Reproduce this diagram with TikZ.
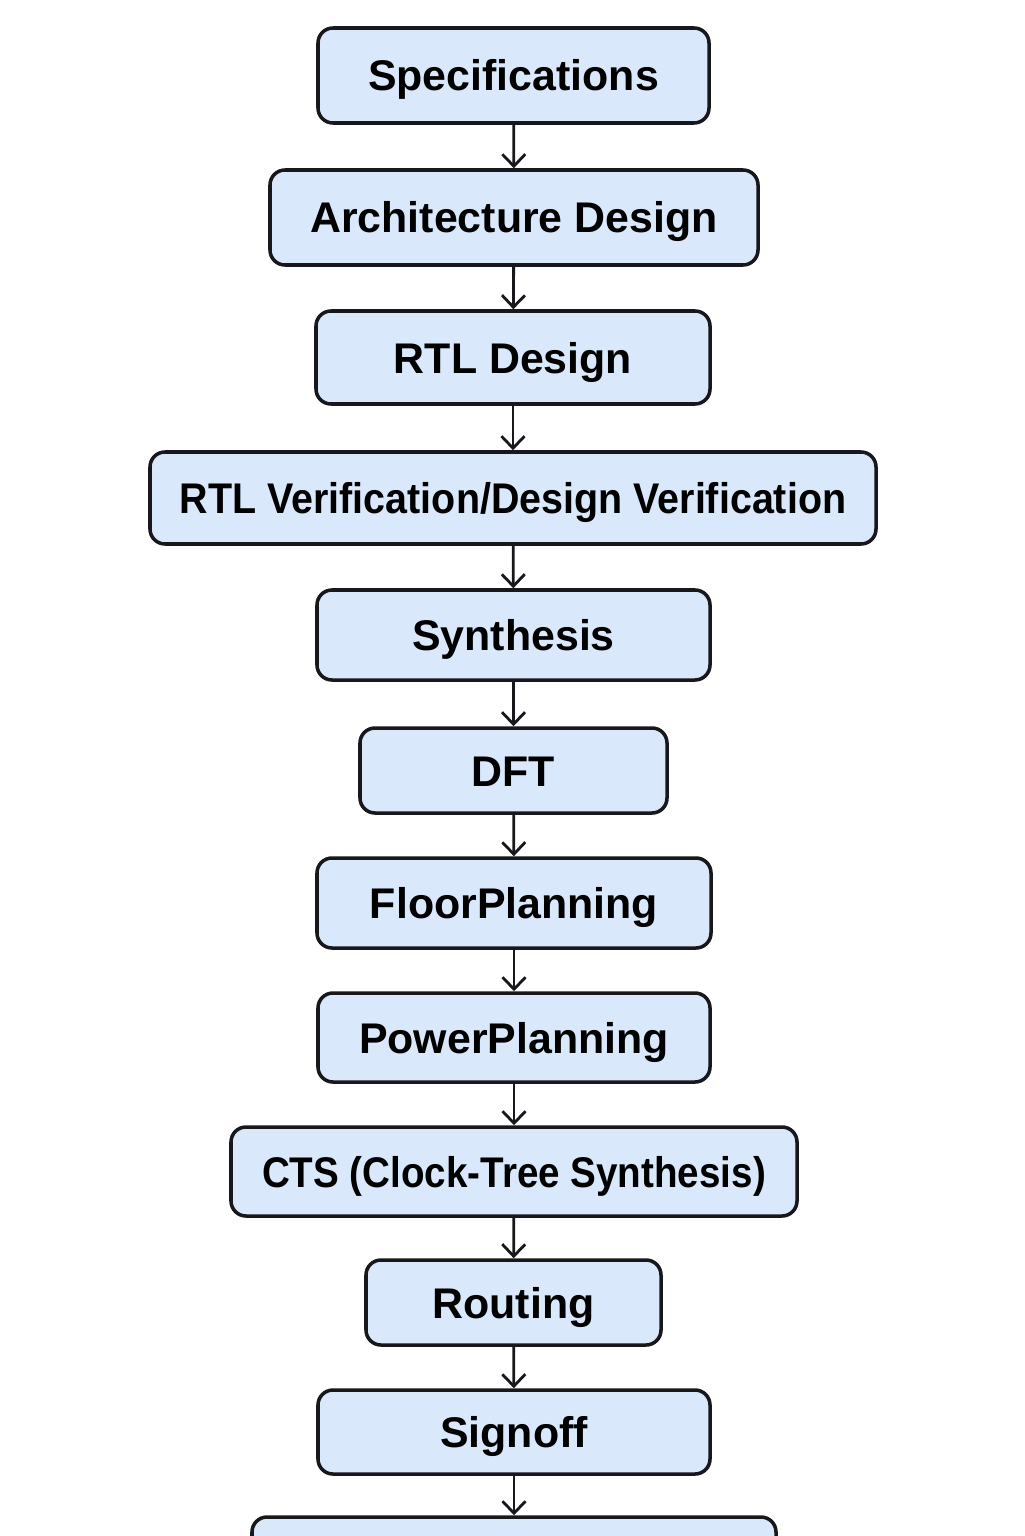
\documentclass[tikz,border=0pt]{standalone}
\usepackage{fontspec}
\usepackage{graphicx}
\setmainfont{Liberation Sans}
\usetikzlibrary{arrows.meta}
\definecolor{stagefill}{RGB}{218,232,252}
\definecolor{stageline}{RGB}{24,24,28}

\begin{document}
\begin{tikzpicture}[>={Straight Barb[length=1.2mm,width=2.3mm]},
 stage/.style={draw=stageline,fill=stagefill,line width=1pt,rounded corners=0.15cm,
   inner sep=0pt,align=center,minimum height=0.9cm,text height=0.31cm,text depth=0cm,
   font=\fontsize{12.2}{14}\selectfont\bfseries},
 flow/.style={->,line width=0.8pt,draw=stageline}]
\useasboundingbox (0,0) rectangle (10.24,-15.36);
\node[stage,minimum width=3.91cm,minimum height=0.95cm] (spec) at (5.135,-0.755) {Specifications};
\node[stage,minimum width=4.88cm,minimum height=0.95cm] (arch) at (5.14,-2.175) {Architecture Design};
\node[stage,minimum width=3.94cm,minimum height=0.93cm] (rtl) at (5.13,-3.575) {RTL Design};
\node[stage,minimum width=7.26cm,minimum height=0.92cm] (rtlv) at (5.13,-4.98) {\scalebox{0.92}[1]{RTL Verification/Design Verification}};
\node[stage,minimum width=3.93cm] (synth) at (5.135,-6.35) {Synthesis};
\node[stage,minimum width=3.07cm,minimum height=0.85cm] (dft) at (5.135,-7.705) {DFT};
\node[stage,minimum width=3.94cm] (floor) at (5.14,-9.03) {FloorPlanning};
\node[stage,minimum width=3.92cm,minimum height=0.89cm] (power) at (5.14,-10.375) {PowerPlanning};
\node[stage,minimum width=5.66cm,minimum height=0.89cm] (cts) at (5.14,-11.715) {\scalebox{0.9}[1]{CTS (Clock-Tree Synthesis)}};
\node[stage,minimum width=2.95cm,minimum height=0.85cm] (route) at (5.135,-13.025) {Routing};
\node[stage,minimum width=3.92cm,minimum height=0.84cm] (signoff) at (5.14,-14.32) {Signoff};
\node[stage,minimum width=5.24cm,minimum height=0.85cm] (next) at (5.14,-15.595) {};
\draw[flow] (spec) -- (arch);
\draw[flow] (arch) -- (rtl);
\draw[flow] (rtl) -- (rtlv);
\draw[flow] (rtlv) -- (synth);
\draw[flow] (synth) -- (dft);
\draw[flow] (dft) -- (floor);
\draw[flow] (floor) -- (power);
\draw[flow] (power) -- (cts);
\draw[flow] (cts) -- (route);
\draw[flow] (route) -- (signoff);
\draw[flow] (signoff) -- (next);
\end{tikzpicture}
\end{document}
